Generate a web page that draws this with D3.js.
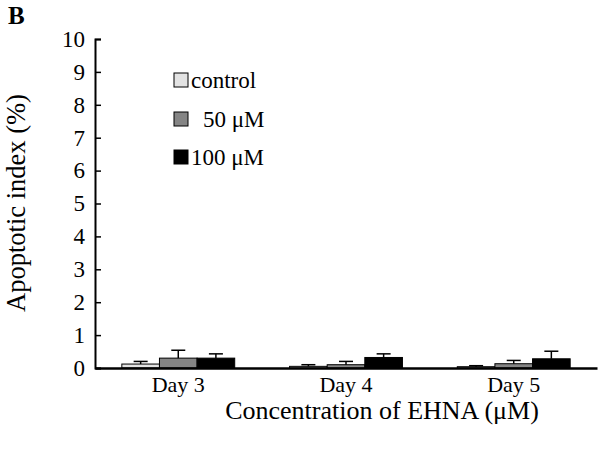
<!DOCTYPE html>
<html>
<head>
<meta charset="utf-8">
<script src="https://cdn.jsdelivr.net/npm/d3@7"></script>
<style>
  body { margin: 0; background: #fff; }
  text { font-family: "Liberation Serif", "Times New Roman", serif; }
</style>
</head>
<body>
<svg width="602" height="453"></svg>
<script>
// data
var days = ["Day 3", "Day 4", "Day 5"];
var series = ["control", "50 \u03bcM", "100 \u03bcM"];
var colors = ["#e3e3e3", "#858585", "#000000"];
var means = [
  [0.12, 0.30, 0.30],   // control, 50, 100 on Day 3
  [0.05, 0.10, 0.32],   // Day 4
  [0.04, 0.13, 0.28]    // Day 5
];
var errs = [
  [0.08, 0.24, 0.13],
  [0.05, 0.10, 0.11],
  [0.03, 0.10, 0.23]
];
var yTicks = [0, 1, 2, 3, 4, 5, 6, 7, 8, 9, 10];

var svg = d3.select("svg");
var plotL = 95, plotR = 597, plotT = 39, plotB = 368;

var x = d3.scaleBand().domain(days).range([plotL, plotR]).paddingInner(0.327).paddingOuter(0.16);
var xs = d3.scaleBand().domain(d3.range(series.length)).range([0, x.bandwidth()]);
var y = d3.scaleLinear().domain([0, 10]).range([plotB, plotT]);

// bars
var groups = svg.selectAll("g.day").data(days).enter().append("g")
  .attr("transform", function(d) { return "translate(" + x(d) + ",0)"; });

groups.each(function(d, i) {
  var g = d3.select(this);
  var rows = series.map(function(s, j) { return {j: j, v: means[i][j], e: errs[i][j]}; });
  g.selectAll("rect").data(rows).enter().append("rect")
    .attr("x", function(r) { return xs(r.j); })
    .attr("y", function(r) { return y(r.v); })
    .attr("width", xs.bandwidth())
    .attr("height", function(r) { return plotB - y(r.v); })
    .attr("fill", function(r) { return colors[r.j]; })
    .attr("stroke", "#000").attr("stroke-width", 1);
  // error bars (upper)
  g.selectAll("line.eb").data(rows).enter().append("line")
    .attr("x1", function(r) { return xs(r.j) + xs.bandwidth() / 2; })
    .attr("x2", function(r) { return xs(r.j) + xs.bandwidth() / 2; })
    .attr("y1", function(r) { return y(r.v); })
    .attr("y2", function(r) { return y(r.v + r.e); })
    .attr("stroke", "#000").attr("stroke-width", 1.5);
  g.selectAll("line.cap").data(rows).enter().append("line")
    .attr("x1", function(r) { return xs(r.j) + xs.bandwidth() / 2 - 7; })
    .attr("x2", function(r) { return xs(r.j) + xs.bandwidth() / 2 + 7; })
    .attr("y1", function(r) { return y(r.v + r.e); })
    .attr("y2", function(r) { return y(r.v + r.e); })
    .attr("stroke", "#000").attr("stroke-width", 1.5);
});

// y axis, ticks pointing inward
var yAxis = svg.append("g").attr("transform", "translate(" + plotL + ",0)")
  .call(d3.axisRight(y).tickValues(yTicks).tickSize(6).tickSizeOuter(6));
yAxis.select(".domain").attr("stroke-width", 2);
yAxis.selectAll(".tick line").attr("stroke-width", 1.5);
yAxis.selectAll(".tick text").attr("x", -10).attr("text-anchor", "end")
  .style("font-size", "23px").style("font-family", "Liberation Serif").attr("fill", "#000");

// x axis
var xAxis = svg.append("g").attr("transform", "translate(0," + plotB + ")")
  .call(d3.axisBottom(x).tickSize(0).tickSizeOuter(0));
xAxis.select(".domain").attr("stroke-width", 2.5);
xAxis.selectAll(".tick text").attr("dy", "0.95em")
  .style("font-size", "22px").style("font-family", "Liberation Serif").attr("fill", "#000");

// axis titles
svg.append("text").attr("transform", "translate(25,203) rotate(-90)")
  .attr("text-anchor", "middle").style("font-size", "26.5px").text("Apoptotic index (%)");
svg.append("text").attr("x", 382).attr("y", 419)
  .attr("text-anchor", "middle").style("font-size", "26px").text("Concentration of EHNA (\u03bcM)");

// panel letter
svg.append("text").attr("x", 8).attr("y", 24)
  .style("font-size", "25px").style("font-weight", "bold").text("B");

// legend
var legendY = [80, 119, 157];
var labelX = [191, 203, 191];
series.forEach(function(s, j) {
  svg.append("rect").attr("x", 174).attr("y", legendY[j] - 7).attr("width", 14).attr("height", 14)
    .attr("fill", colors[j]).attr("stroke", "#000").attr("stroke-width", 1);
  svg.append("text").attr("x", labelX[j]).attr("y", legendY[j] + 8)
    .style("font-size", "23px").text(s);
});
</script>
</body>
</html>
